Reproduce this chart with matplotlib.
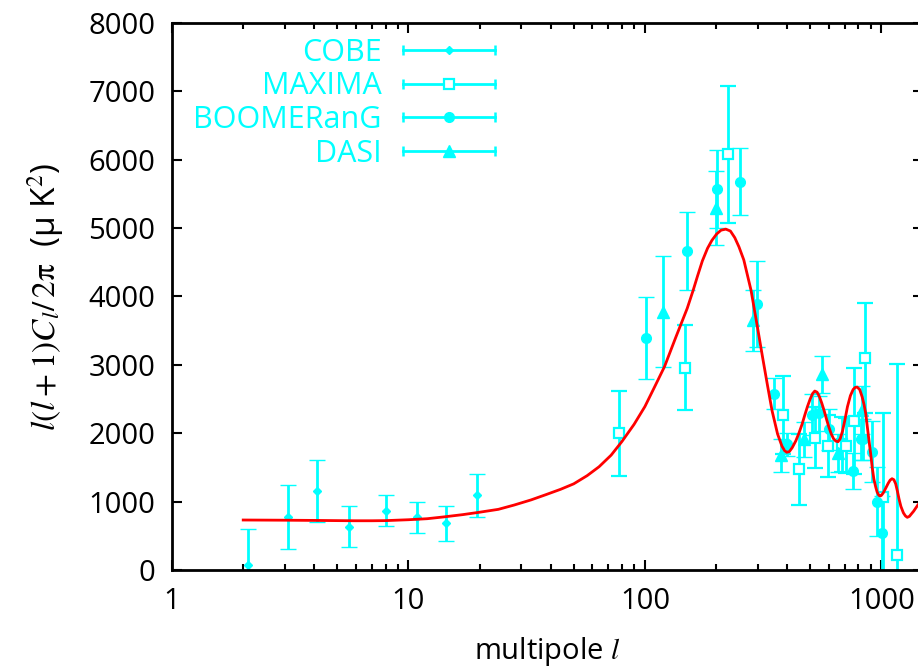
import numpy as np
import matplotlib
matplotlib.use('Agg')
import matplotlib.pyplot as plt
from matplotlib.lines import Line2D
from matplotlib.legend_handler import HandlerBase

plt.rcParams['font.family'] = ['Open Sans', 'DejaVu Sans']
plt.rcParams['mathtext.fontset'] = 'stix'

# COBE
cobe_l = [2.1, 3.1, 4.1, 5.6, 8.0, 10.9, 14.4, 19.5]
cobe_v = [70, 780, 1155, 630, 865, 770, 680, 1090]
cobe_e = [530, 470, 450, 300, 225, 230, 250, 320]

# MAXIMA
maxima_l = [77.6, 148, 224, 385, 449, 526, 595, 679, 707, 766, 856, 1012, 1161]
maxima_v = [2000, 2960, 6080, 2270, 1470, 1935, 1810, 1840, 1820, 2180, 3100, 1070, 225]
maxima_e = [620, 620, 1000, 570, 520, 450, 450, 400, 400, 780, 800, 1230, 2790]

# BOOMERanG
boom_l = [100.7, 150.8, 202, 252, 297, 351, 401, 508, 545, 600, 756, 818, 840, 915, 955, 1005]
boom_v = [3390, 4660, 5570, 5680, 3890, 2580, 1840, 2270, 2290, 2060, 1450, 1910, 1910, 1730, 1000, 540]
boom_e = [600, 570, 570, 490, 630, 230, 170, 300, 250, 300, 260, 300, 300, 450, 500, 540]

# DASI
dasi_l = [119, 200, 287, 375, 469, 560, 655, 830]
dasi_v = [3780, 5290, 3650, 1680, 1910, 2860, 1710, 2340]
dasi_e = [810, 540, 450, 240, 260, 270, 280, 350]

# theory curve
model_l = [2, 3, 4, 5, 6, 7, 8, 10, 12, 14, 17, 20, 24, 28, 33, 38, 44, 50, 57, 64,
           72, 80, 90, 100, 110, 121, 135, 151, 160, 167, 175, 184, 192, 201, 210,
           220, 230, 240, 250, 262, 281, 299, 315, 330, 345, 364, 380, 390, 398,
           408, 420, 435, 448, 462, 475, 487, 500, 512, 523, 535, 548, 560, 573,
           587, 600, 614, 628, 642, 656, 670, 685, 700, 719, 740, 760, 775, 790,
           810, 830, 845, 859, 875, 890, 901, 915, 930, 946, 960, 975, 987, 1000,
           1020, 1043, 1070, 1090, 1110, 1130, 1150, 1170, 1188, 1210, 1240, 1265,
           1288, 1315, 1340, 1370, 1396, 1430, 1470]
model_v = [731, 728, 725, 722, 720, 720, 722, 735, 750, 775, 810, 845, 887, 950, 1025,
           1100, 1180, 1260, 1380, 1510, 1680, 1880, 2130, 2390, 2680, 2973, 3400,
           3826, 4090, 4300, 4520, 4704, 4820, 4913, 4970, 4985, 4957, 4860, 4725,
           4535, 4094, 3560, 3100, 2700, 2330, 1990, 1810, 1745, 1722, 1730, 1790,
           1890, 2000, 2130, 2270, 2390, 2500, 2580, 2617, 2600, 2530, 2440, 2330,
           2200, 2090, 1990, 1920, 1885, 1876, 1920, 2030, 2180, 2388, 2550, 2640,
           2670, 2675, 2640, 2530, 2420, 2290, 2060, 1850, 1706, 1500, 1330, 1218,
           1140, 1095, 1082, 1090, 1130, 1194, 1270, 1315, 1335, 1320, 1260, 1150,
           1040, 930, 835, 790, 770, 785, 820, 860, 902, 955, 1010]

CYAN = '#00ffff'
RED = '#ff0000'


class HandlerHBar(HandlerBase):
    # gnuplot style key: horizontal bar with end caps and point in the middle
    def create_artists(self, legend, orig_handle, xdescent, ydescent,
                       width, height, fontsize, trans):
        y = height / 2 - ydescent
        x0, x1 = -xdescent, width - xdescent
        bar = Line2D([x0, x1], [y, y], color=CYAN, lw=2.0)
        caps = Line2D([x0, x1], [y, y], ls='none', marker='|', ms=7,
                      mew=1.8, color=CYAN)
        mk = Line2D([(x0 + x1) / 2], [y], ls='none',
                    marker=orig_handle.get_marker(),
                    ms=orig_handle.get_markersize(),
                    mfc=orig_handle.get_markerfacecolor(),
                    mec=CYAN, mew=orig_handle.get_markeredgewidth())
        for a in (bar, caps, mk):
            a.set_transform(trans)
        return [bar, caps, mk]


fig = plt.figure(figsize=(9.18, 6.72), dpi=100)
# the plot area runs past the right edge of the picture, as in the original
ax = fig.add_axes([0.1874, 0.1518, 0.8180, 0.814])

common = dict(ls='none', color=CYAN, ecolor=CYAN, elinewidth=2.0,
              capsize=6, capthick=1.6, zorder=2)
c1 = ax.errorbar(cobe_l, cobe_v, yerr=cobe_e, marker='D', ms=4, mew=1, **common)
c2 = ax.errorbar(maxima_l, maxima_v, yerr=maxima_e, marker='s', ms=7,
                 mfc='white', mec=CYAN, mew=1.6, **common)
c3 = ax.errorbar(boom_l, boom_v, yerr=boom_e, marker='o', ms=7, mew=1, **common)
c4 = ax.errorbar(dasi_l, dasi_v, yerr=dasi_e, marker='^', ms=8, mew=1, **common)

ax.plot(model_l, model_v, color=RED, lw=2.0, zorder=3)

ax.set_xscale('log')
ax.set_xlim(1, 1500)
ax.set_ylim(0, 8000)
ax.set_yticks(np.arange(0, 8001, 1000))
ax.set_xticks([1, 10, 100, 1000])
ax.set_xticklabels(['1', '10', '100', '1000'])

for s in ax.spines.values():
    s.set_linewidth(2.0)
ax.tick_params(which='both', direction='in', top=True, right=True,
               labelsize=21, width=1.5)
ax.tick_params(which='major', length=7, pad=12)
ax.tick_params(which='minor', length=4)

ax.set_xlabel('multipole $l$', fontsize=21, labelpad=14)
ax.set_ylabel(r'$l(l+1)C_l/\,2\mathrm{\pi}$  (μ K$^2$)', fontsize=24, labelpad=16)

handles = [c1.lines[0], c2.lines[0], c3.lines[0], c4.lines[0]]
leg = ax.legend(handles, ['COBE', 'MAXIMA', 'BOOMERanG', 'DASI'],
                handler_map={Line2D: HandlerHBar()}, loc='upper left',
                bbox_to_anchor=(0.0, 1.012), markerfirst=False, frameon=False,
                fontsize=22, handlelength=3.0, handletextpad=0.7,
                labelspacing=0.12, borderaxespad=0.3)
for t in leg.get_texts():
    t.set_color(CYAN)
    t.set_ha('right')

fig.savefig('out.png', dpi=100)
